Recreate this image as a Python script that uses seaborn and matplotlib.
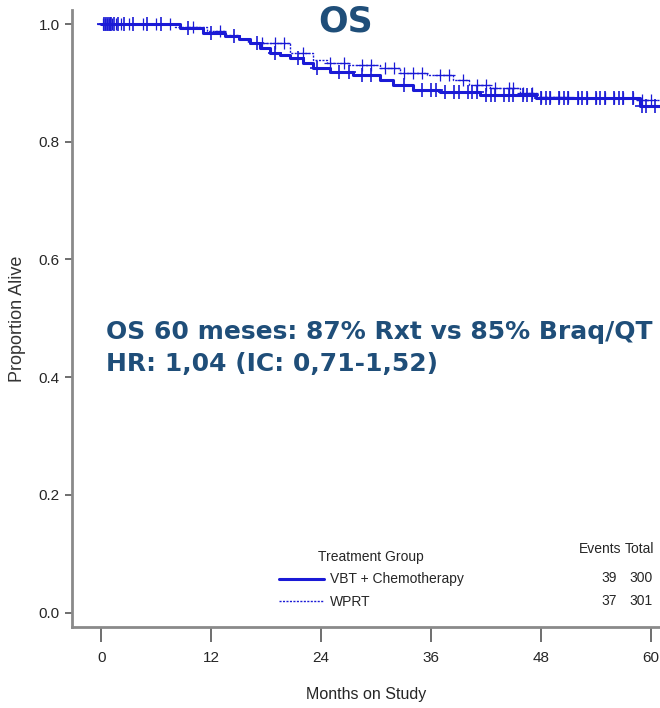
"""
Kaplan-Meier style overall survival chart (OS) for two treatment groups.
"""

import numpy as np
import pandas as pd
import matplotlib
matplotlib.use("Agg")
import matplotlib.pyplot as plt
import seaborn as sns

# Survival step data
months_vbt = [0, 8.6, 11.1, 13.5, 15.0, 16.2, 17.3, 18.4, 19.5, 20.6, 22.0, 23.1, 25.0,
              27.5, 30.4, 31.8, 34.0, 37.0, 41.3, 47.5, 58.8, 61]
surv_vbt = [1.0, 0.993, 0.985, 0.980, 0.975, 0.968, 0.960, 0.951, 0.947, 0.942, 0.934,
            0.926, 0.918, 0.913, 0.905, 0.896, 0.888, 0.884, 0.879, 0.874, 0.861, 0.861]

months_wprt = [0, 8.0, 11.5, 13.5, 15.0, 16.0, 20.6, 23.1, 24.6, 27.0, 30.4, 32.6, 35.6,
               38.4, 40.2, 42.4, 45.7, 47.5, 51.1, 58.5, 61]
surv_wprt = [1.0, 0.995, 0.988, 0.982, 0.975, 0.968, 0.951, 0.939, 0.934, 0.930, 0.925,
             0.917, 0.913, 0.905, 0.896, 0.891, 0.883, 0.876, 0.874, 0.871, 0.871]

# Censoring times (the "+" marks)
censor_vbt = [0.3, 0.5, 0.7, 0.9, 1.1, 1.4, 1.8, 2.5, 3.5, 5, 6.5, 9.5, 12, 14.5, 17, 19,
              21.5, 23.5, 26, 27, 28.5, 29.5, 33, 35, 36, 36.5, 37.5, 38.5, 39, 40, 40.5,
              41, 42, 42.5, 43, 44, 44.5, 45, 46, 46.5, 47, 48, 48.5, 49, 50, 50.5, 51,
              52, 52.5, 53, 54, 54.5, 55, 56, 56.5, 57, 58, 59, 59.5, 60.5]
censor_wprt = [0.2, 0.4, 0.6, 0.8, 1.0, 1.2, 1.6, 2.2, 3, 4.5, 6, 7.5, 10, 13, 17.5, 19,
               20, 22, 25, 26.5, 28.5, 29.5, 31, 32, 33, 34, 35, 37, 38, 39.5, 41, 42,
               43, 44.5, 45, 46, 47, 48, 49, 50, 51, 52, 53, 54, 55, 56, 57, 58, 59, 60]

groups = ["VBT + Chemotherapy", "WPRT"]
events = [39, 37]
totals = [300, 301]

x_ticks = [0, 12, 24, 36, 48, 60]
y_ticks = [0.0, 0.2, 0.4, 0.6, 0.8, 1.0]

blue = "#1a1ad6"
text_blue = "#1f4e79"
arial = ["Liberation Sans", "DejaVu Sans"]


def step_value(times, surv, t):
    idx = np.searchsorted(times, t, side="right") - 1
    return np.asarray(surv)[idx]


sns.set_style("ticks")
plt.rcParams["font.family"] = ["DejaVu Sans"]

fig = plt.figure(figsize=(6.6, 7.08), dpi=100)
ax = fig.add_axes([72 / 660, 81 / 708, 588 / 660, 617 / 708])

curves = pd.concat([
    pd.DataFrame({"month": months_vbt, "surv": surv_vbt, "group": groups[0]}),
    pd.DataFrame({"month": months_wprt, "surv": surv_wprt, "group": groups[1]}),
])

sns.lineplot(data=curves[curves.group == groups[0]], x="month", y="surv",
             drawstyle="steps-post", color=blue, linewidth=2.2, ax=ax,
             label=groups[0])
sns.lineplot(data=curves[curves.group == groups[1]], x="month", y="surv",
             drawstyle="steps-post", color=blue, linewidth=1.0, linestyle=(0, (1.5, 1)),
             ax=ax, label=groups[1])

sns.scatterplot(x=censor_vbt, y=step_value(months_vbt, surv_vbt, censor_vbt),
                marker="+", s=100, color=blue, linewidth=1.2, ax=ax)
sns.scatterplot(x=censor_wprt, y=step_value(months_wprt, surv_wprt, censor_wprt),
                marker="+", s=80, color=blue, linewidth=0.9, ax=ax)

ax.set_xlim(-3.2, 61.0)
ax.set_ylim(-0.0246, 1.024)
ax.set_xticks(x_ticks)
ax.set_yticks(y_ticks)
ax.set_xticklabels([str(t) for t in x_ticks], family=arial, fontsize=11)
ax.set_yticklabels([f"{t:.1f}" for t in y_ticks], family=arial, fontsize=11)
ax.tick_params(axis="x", bottom=True, direction="out", length=11, width=1.2,
               color="#555555", pad=6)
ax.tick_params(axis="y", left=True, direction="out", length=5, width=1.2,
               color="#555555", pad=4)

for side in ["top", "right"]:
    ax.spines[side].set_visible(False)
for side in ["left", "bottom"]:
    ax.spines[side].set_color("#8a8a8a")
    ax.spines[side].set_linewidth(2)

ax.set_xlabel("Months on Study", family=arial, fontsize=11.5)
ax.xaxis.set_label_coords(0.5, -0.097)
ax.set_ylabel("Proportion Alive", family=arial, fontsize=13, color="#333333")
ax.yaxis.set_label_coords(-0.078, 0.5)

# Legend
leg = ax.legend(loc="upper left", bbox_to_anchor=(0.330, 0.145), frameon=False,
                title="Treatment Group", handlelength=3.3, handletextpad=0.4,
                labelspacing=0.6, prop={"family": arial, "size": 10})
leg.get_title().set_fontfamily(arial)
leg.get_title().set_fontsize(10)

fig.text(621 / 660, 1 - 549 / 708, "Events", ha="right", va="center",
         family=arial, fontsize=10)
fig.text(654 / 660, 1 - 549 / 708, "Total", ha="right", va="center",
         family=arial, fontsize=10)
for i, (ev, tot) in enumerate(zip(events, totals)):
    yy = 1 - (578 + 23 * i) / 708
    fig.text(617 / 660, yy, str(ev), ha="right", va="center", family=arial, fontsize=10)
    fig.text(653 / 660, yy, str(tot), ha="right", va="center", family=arial, fontsize=10)

# Title and annotation
fig.text(346 / 660, 1 - 22 / 708, "OS", ha="center", va="center",
         fontsize=25, fontweight="bold", color=text_blue)
fig.text(106 / 660, 1 - 332 / 708, "OS 60 meses: 87% Rxt vs 85% Braq/QT",
         ha="left", va="center", fontsize=18, fontweight="bold", color=text_blue)
fig.text(106 / 660, 1 - 364 / 708, "HR: 1,04 (IC: 0,71-1,52)",
         ha="left", va="center", fontsize=18, fontweight="bold", color=text_blue)

fig.savefig("out.png", dpi=100)
